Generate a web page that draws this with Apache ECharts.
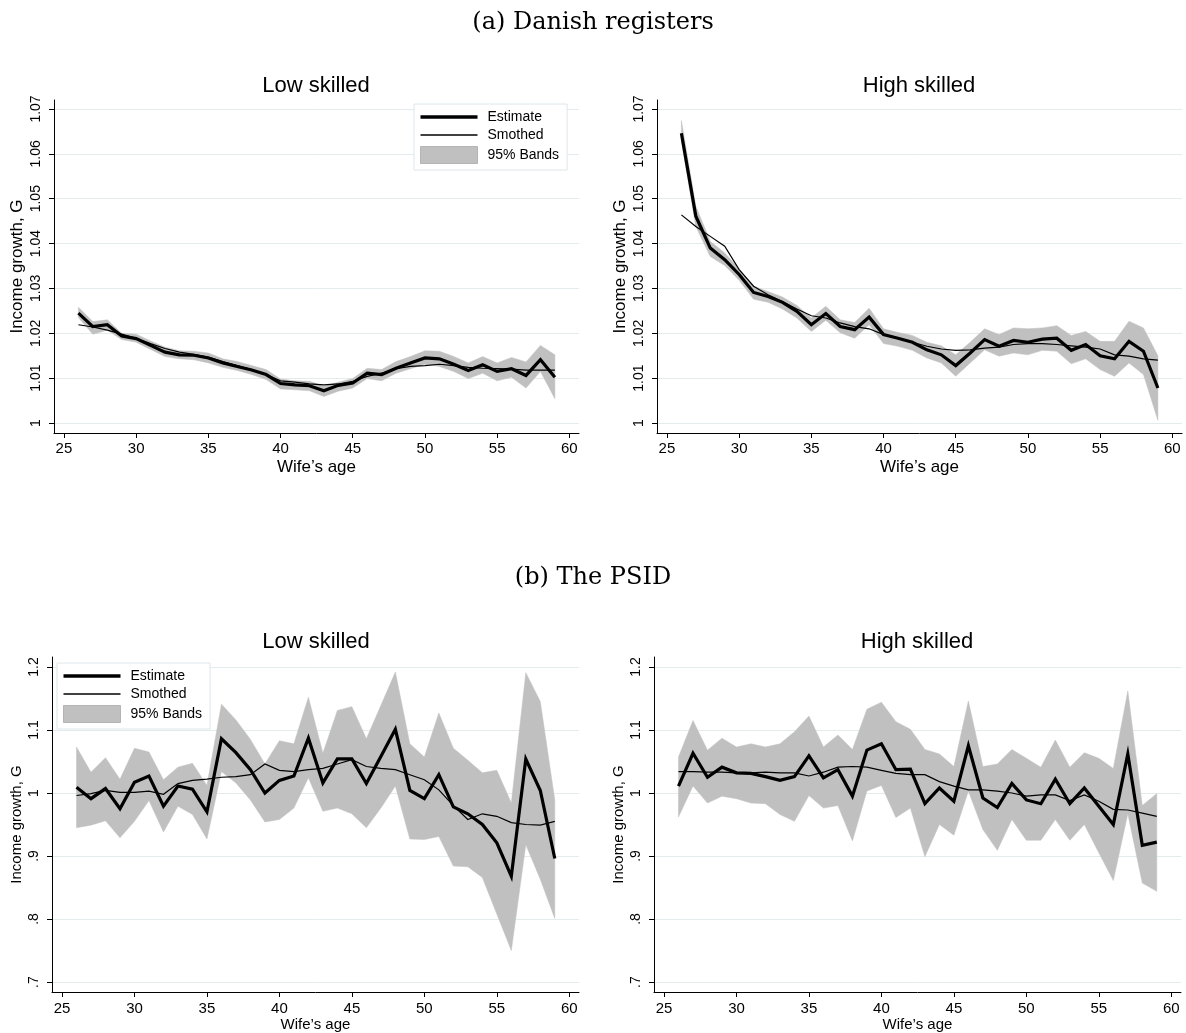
<!DOCTYPE html>
<html>
<head>
<meta charset="utf-8">
<script src="https://cdn.jsdelivr.net/npm/echarts@6/dist/echarts.min.js"></script>
<style>
html,body{margin:0;padding:0;background:#fff;}
#chart{width:1186px;height:1033px;}
</style>
</head>
<body>
<div id="chart"></div>
<script>
// ---------- data ----------
const ages = [26,27,28,29,30,31,32,33,34,35,36,37,38,39,40,41,42,43,44,45,46,47,48,49,50,51,52,53,54,55,56,57,58,59];

const xTicks = [25,30,35,40,45,50,55,60];
const xTickLabels = ['25','30','35','40','45','50','55','60'];
const yTicksA = [1,1.01,1.02,1.03,1.04,1.05,1.06,1.07];
const yTickLabelsA = ['1','1.01','1.02','1.03','1.04','1.05','1.06','1.07'];
const yTicksB = [0.7,0.8,0.9,1,1.1,1.2];
const yTickLabelsB = ['.7','.8','.9','1','1.1','1.2'];

// (a) Danish registers, low skilled
const aLowEst = [1.0245,1.0215,1.0219,1.0194,1.0188,1.0173,1.0158,1.0152,1.0151,1.0145,1.0134,1.0126,1.0118,1.0108,1.0088,1.0085,1.0083,1.0072,
                 1.0084,1.0089,1.0111,1.0108,1.0122,1.0134,1.0145,1.0143,1.0131,1.0117,1.0130,1.0115,1.0121,1.0106,1.0141,1.0102];
const aLowSmo = [1.0219,1.0214,1.0207,1.0198,1.0189,1.0177,1.0166,1.0158,1.0153,1.0147,1.0137,1.0128,1.0119,1.0108,1.0094,1.0091,1.0087,1.0085,
                 1.0087,1.0093,1.0104,1.0111,1.0121,1.0126,1.0128,1.0131,1.0128,1.0124,1.0122,1.0121,1.0120,1.0118,1.0118,1.0118];
const aLowLo  = [1.0235,1.0198,1.0207,1.0186,1.0180,1.0164,1.0148,1.0143,1.0141,1.0134,1.0124,1.0117,1.0108,1.0097,1.0076,1.0074,1.0072,1.0059,
                 1.0071,1.0078,1.0099,1.0094,1.0111,1.0121,1.0131,1.0126,1.0115,1.0099,1.0111,1.0094,1.0102,1.0078,1.0115,1.0054];
const aLowHi  = [1.0258,1.0226,1.0230,1.0200,1.0198,1.0183,1.0169,1.0161,1.0160,1.0156,1.0143,1.0137,1.0128,1.0119,1.0098,1.0094,1.0093,1.0082,
                 1.0091,1.0099,1.0122,1.0119,1.0137,1.0148,1.0161,1.0160,1.0148,1.0134,1.0148,1.0134,1.0146,1.0136,1.0173,1.0152];

// (a) Danish registers, high skilled
const aHighEst = [1.0646,1.0461,1.0390,1.0364,1.0331,1.0291,1.0282,1.0269,1.0249,1.0219,1.0244,1.0215,1.0208,1.0236,1.0197,1.0189,1.0180,
                  1.0163,1.0152,1.0128,1.0156,1.0186,1.0171,1.0184,1.0180,1.0187,1.0189,1.0162,1.0175,1.0150,1.0143,1.0182,1.0160,1.0078];
const aHighSmo = [1.0464,1.0438,1.0416,1.0394,1.0342,1.0305,1.0286,1.0271,1.0254,1.0239,1.0234,1.0223,1.0215,1.0210,1.0197,1.0189,1.0180,
                  1.0171,1.0165,1.0162,1.0163,1.0167,1.0169,1.0175,1.0177,1.0177,1.0175,1.0172,1.0169,1.0165,1.0152,1.0149,1.0143,1.0140];
const aHighLo  = [1.0628,1.0438,1.0371,1.0351,1.0318,1.0276,1.0269,1.0254,1.0234,1.0204,1.0229,1.0201,1.0189,1.0219,1.0177,1.0171,1.0162,
                  1.0145,1.0134,1.0104,1.0134,1.0163,1.0149,1.0156,1.0152,1.0162,1.0160,1.0132,1.0143,1.0119,1.0104,1.0134,1.0108,1.0006];
const aHighHi  = [1.0674,1.0483,1.0405,1.0379,1.0343,1.0305,1.0293,1.0281,1.0262,1.0234,1.0260,1.0230,1.0224,1.0256,1.0210,1.0202,1.0195,
                  1.0180,1.0172,1.0152,1.0180,1.0210,1.0197,1.0212,1.0210,1.0212,1.0217,1.0195,1.0204,1.0182,1.0182,1.0227,1.0212,1.0150];

// (b) PSID, low skilled
const bLowEst = [1.009,0.991,1.007,0.975,1.017,1.027,0.979,1.011,1.006,0.970,1.086,1.064,1.037,1.000,1.020,1.027,1.087,
                 1.016,1.054,1.054,1.015,1.058,1.101,1.004,0.991,1.029,0.978,0.967,0.950,0.921,0.868,1.054,1.004,0.896];
const bLowSmo = [0.996,0.999,1.004,1.001,1.001,1.003,0.998,1.015,1.020,1.022,1.025,1.026,1.029,1.046,1.036,1.034,1.037,
                 1.039,1.046,1.053,1.042,1.039,1.037,1.029,1.021,1.005,0.980,0.958,0.967,0.963,0.953,0.950,0.949,0.955];
const bLowLo  = [0.945,0.949,0.956,0.929,0.955,0.988,0.938,0.979,0.966,0.927,1.034,1.016,0.989,0.954,0.958,0.976,1.024,
                 0.971,0.976,0.967,0.945,0.976,1.011,0.927,0.926,0.931,0.884,0.883,0.866,0.808,0.750,0.918,0.863,0.801];
const bLowHi  = [1.073,1.033,1.056,1.022,1.071,1.065,1.021,1.041,1.047,1.012,1.141,1.116,1.085,1.046,1.083,1.078,1.152,
                 1.063,1.131,1.137,1.086,1.139,1.192,1.078,1.057,1.127,1.071,1.052,1.032,1.036,0.984,1.191,1.145,0.989];

// (b) PSID, high skilled
const bHighEst = [1.011,1.063,1.025,1.041,1.032,1.031,1.026,1.020,1.026,1.059,1.024,1.037,0.995,1.068,1.078,1.037,1.038,
                  0.983,1.008,0.987,1.075,0.992,0.977,1.015,0.989,0.983,1.022,0.983,1.008,0.979,0.950,1.062,0.917,0.922];
const bHighSmo = [1.034,1.034,1.033,1.033,1.032,1.032,1.033,1.032,1.032,1.027,1.033,1.041,1.042,1.041,1.036,1.031,1.029,
                  1.029,1.018,1.011,1.005,1.005,1.003,1.000,0.995,0.997,0.997,0.988,0.997,0.987,0.974,0.973,0.968,0.963];
const bHighLo  = [0.962,1.011,0.984,0.995,0.991,0.984,0.983,0.966,0.955,0.996,0.976,0.980,0.924,1.003,1.012,0.961,0.976,
                  0.899,0.950,0.933,1.003,0.942,0.909,0.958,0.925,0.925,0.958,0.925,0.950,0.905,0.861,0.967,0.857,0.844];
const bHighHi  = [1.057,1.115,1.068,1.087,1.073,1.078,1.073,1.078,1.097,1.122,1.073,1.092,1.069,1.133,1.144,1.113,1.101,
                  1.069,1.062,1.042,1.146,1.042,1.046,1.069,1.055,1.041,1.084,1.041,1.064,1.055,1.039,1.162,0.980,0.999];

// ---------- chart ----------
const SANS = 'Liberation Sans, Arial, sans-serif';
const BAND = '#c0c0c0';
const GRIDLINE = '#e3ebed';

function pairs(vals){ return ages.map((a,i)=>[a, vals[i]]); }
function lookup(ticks, labels){
  return function(v){
    for (let i=0;i<ticks.length;i++){ if (Math.abs(ticks[i]-v) < 1e-7) return labels[i]; }
    return '';
  };
}

const grids = [
  {left:54, top:100, width:525, height:333},
  {left:657, top:100, width:525, height:333},
  {left:52, top:657, width:527, height:336},
  {left:654, top:657, width:527, height:336}
];

function xAxisFor(gi, nameSize, isA){
  return {
    type:'value', gridIndex:gi, min:24.31, max:60.67,
    name:"Wife\u2019s age", nameLocation:'middle', nameGap:isA?26:25,
    nameTextStyle:{fontFamily:SANS, fontSize:nameSize, color:'#000'},
    axisLine:{show:true, onZero:false, lineStyle:{color:'#000', width:1}},
    axisTick:{show:true, length:5, lineStyle:{color:'#000', width:1}, customValues:xTicks},
    axisLabel:{fontFamily:SANS, fontSize:15, color:'#000', margin:isA?8:9, customValues:xTicks,
               formatter:lookup(xTicks, xTickLabels)},
    splitLine:{show:false}
  };
}
function yAxisFor(gi, isA, nameSize){
  const ticks = isA ? yTicksA : yTicksB;
  const labels = isA ? yTickLabelsA : yTickLabelsB;
  return {
    type:'value', gridIndex:gi,
    min: isA ? 0.99777 : 0.6842, max: isA ? 1.0720 : 1.2158,
    name:'Income growth, G', nameLocation:'middle', nameGap:28,
    nameTextStyle:{fontFamily:SANS, fontSize:nameSize, color:'#000'},
    axisLine:{show:true, onZero:false, lineStyle:{color:'#000', width:1}},
    axisTick:{show:true, length:5, lineStyle:{color:'#000', width:1}, customValues:ticks},
    axisLabel:{fontFamily:SANS, fontSize:14, color:'#000', margin:11, rotate:90, customValues:ticks,
               formatter:lookup(ticks, labels)},
    splitLine:{show:true, lineStyle:{color:GRIDLINE, width:1}}
  };
}

function bandSeries(gi, lo, hi){
  return {
    type:'custom', name:'95% Bands', coordinateSystem:'cartesian2d',
    xAxisIndex:gi, yAxisIndex:gi,
    data: ages.map((a,i)=>[a, lo[i], hi[i]]),
    encode:{x:0, y:[1,2]},
    itemStyle:{color:BAND},
    silent:true, z:1, clip:true,
    renderItem:function(params, api){
      if (params.dataIndexInside !== 0) return null;
      const n = params.dataInsideLength;
      const top = [], bot = [];
      for (let i=0;i<n;i++){
        top.push(api.coord([api.value(0,i), api.value(2,i)]));
        bot.push(api.coord([api.value(0,i), api.value(1,i)]));
      }
      return {type:'polygon', shape:{points: top.concat(bot.reverse())},
              style:{fill:BAND, stroke:BAND, lineWidth:0.5}};
    }
  };
}

function panelSeries(gi, est, smo, lo, hi){
  return [
    bandSeries(gi, lo, hi),
    {type:'line', name:'Smothed', xAxisIndex:gi, yAxisIndex:gi, data:pairs(smo), symbol:'none',
     itemStyle:{color:'#000'}, lineStyle:{color:'#000', width:1.2, join:'miter'}, silent:true, z:3},
    {type:'line', name:'Estimate', xAxisIndex:gi, yAxisIndex:gi, data:pairs(est), symbol:'none',
     itemStyle:{color:'#000'}, lineStyle:{color:'#000', width:3.2, join:'miter'}, silent:true, z:4}
  ];
}

function legendAt(left, top){
  return {
    left:left, top:top, orient:'vertical',
    itemWidth:57, itemHeight:17, itemGap:4,
    padding:[6,8,6,6],
    borderColor:'#dde6ea', borderWidth:1, backgroundColor:'#fff',
    symbolKeepAspect:true, selectedMode:false,
    textStyle:{fontFamily:SANS, fontSize:14, color:'#000', padding:[0,0,0,5]},
    data:[
      {name:'Estimate', icon:'path://M0,0H57V3.6H0Z', itemStyle:{color:'#000', borderWidth:0}},
      {name:'Smothed', icon:'path://M0,0H57V1.3H0Z', itemStyle:{color:'#000', borderWidth:0}},
      {name:'95% Bands', icon:'path://M0,0H57V17H0Z', itemStyle:{color:BAND, borderColor:'#b4b4b4', borderWidth:1}}
    ]
  };
}

const mainTitleStyle = {fontFamily:'DejaVu Serif, serif', fontSize:24, fontWeight:'normal', color:'#000'};
const panelTitleStyle = {fontFamily:SANS, fontSize:22, fontWeight:'normal', color:'#000'};

const option = {
  animation:false,
  backgroundColor:'#fff',
  title:[
    {text:'(a) Danish registers', left:593, top:11, textAlign:'center', textStyle:mainTitleStyle, padding:0},
    {text:'(b) The PSID', left:593, top:566, textAlign:'center', textStyle:mainTitleStyle, padding:0},
    {text:'Low skilled', left:316, top:75, textAlign:'center', textStyle:panelTitleStyle, padding:0},
    {text:'High skilled', left:919, top:75, textAlign:'center', textStyle:panelTitleStyle, padding:0},
    {text:'Low skilled', left:316, top:631, textAlign:'center', textStyle:panelTitleStyle, padding:0},
    {text:'High skilled', left:917, top:631, textAlign:'center', textStyle:panelTitleStyle, padding:0}
  ],
  grid:grids,
  xAxis:[xAxisFor(0,17,true), xAxisFor(1,17,true), xAxisFor(2,15,false), xAxisFor(3,15,false)],
  yAxis:[yAxisFor(0,true,17), yAxisFor(1,true,17), yAxisFor(2,false,15), yAxisFor(3,false,15)],
  legend:[legendAt(414,104), legendAt(57,663)],
  series:[].concat(
    panelSeries(0, aLowEst, aLowSmo, aLowLo, aLowHi),
    panelSeries(1, aHighEst, aHighSmo, aHighLo, aHighHi),
    panelSeries(2, bLowEst, bLowSmo, bLowLo, bLowHi),
    panelSeries(3, bHighEst, bHighSmo, bHighLo, bHighHi)
  )
};

const chart = echarts.init(document.getElementById('chart'), null, {renderer:'canvas'});
chart.setOption(option);
</script>
</body>
</html>
